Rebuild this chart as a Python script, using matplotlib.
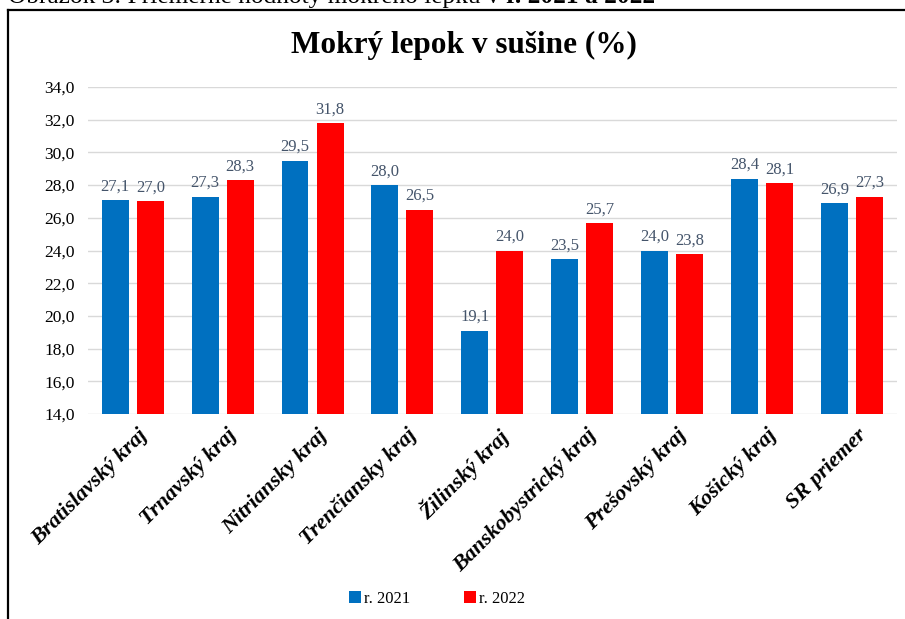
import matplotlib.pyplot as plt
import numpy as np
from matplotlib.lines import Line2D

# Wet gluten in dry matter by region
regions = ['Bratislavský kraj', 'Trnavský kraj', 'Nitriansky kraj', 'Trenčiansky kraj',
           'Žilinský kraj', 'Banskobystrický kraj', 'Prešovský kraj', 'Košický kraj', 'SR priemer']
values_2021 = [27.1, 27.3, 29.5, 28.0, 19.1, 23.5, 24.0, 28.4, 26.9]
values_2022 = [27.0, 28.3, 31.8, 26.5, 24.0, 25.7, 23.8, 28.1, 27.3]
y_ticks = [14, 16, 18, 20, 22, 24, 26, 28, 30, 32, 34]

plt.rcParams['font.family'] = ['Liberation Serif', 'DejaVu Serif']

fig = plt.figure(figsize=(9.05, 6.19), dpi=100)
ax = fig.add_axes([0.097, 0.331, 0.894, 0.5285])

x = np.arange(len(regions))
w = 0.30
off = 0.195
bars1 = ax.bar(x - off, values_2021, w, color='#0070C0', label='r. 2021', zorder=3)
bars2 = ax.bar(x + off, values_2022, w, color='#FF0000', label='r. 2022', zorder=3)

# value labels above bars
for bars, vals in [(bars1, values_2021), (bars2, values_2022)]:
    for b, v in zip(bars, vals):
        ax.annotate(f'{v:.1f}'.replace('.', ','), (b.get_x() + b.get_width() / 2, v),
                    xytext=(0, 4), textcoords='offset points', ha='center', va='bottom',
                    fontsize=12, color='#44546A')

ax.set_ylim(14, 34)
ax.set_xlim(-0.5, len(regions) - 0.5)
ax.set_yticks(y_ticks)
ax.set_yticklabels([f'{t:.1f}'.replace('.', ',') for t in y_ticks], fontsize=12.5)
ax.grid(axis='y', color='#D9D9D9', linewidth=1, zorder=0)
ax.tick_params(axis='both', length=0)
ax.tick_params(axis='y', pad=9.5)
for s in ax.spines.values():
    s.set_visible(False)

ax.set_xticks(x + 0.05)
ax.set_xticklabels(regions, rotation=45, ha='right', rotation_mode='anchor',
                   fontsize=16, fontweight='bold', fontstyle='italic')
ax.tick_params(axis='x', pad=8)

fig.text(0.513, 0.927, 'Mokrý lepok v sušine (%)', ha='center', va='center',
         fontsize=22.5, fontweight='bold')

fig.legend(handles=[bars1, bars2], loc='center', bbox_to_anchor=(0.483, 0.033), ncol=2,
           frameon=False, fontsize=12, handlelength=0.7, handleheight=0.7,
           handletextpad=0.2, columnspacing=3.2)

# frame around the chart
fig.add_artist(Line2D([8 / 905, 1], [1 - 10 / 619] * 2, transform=fig.transFigure,
                      color='black', linewidth=1.6))
fig.add_artist(Line2D([8 / 905] * 2, [0, 1 - 10 / 619], transform=fig.transFigure,
                      color='black', linewidth=1.6))

# caption above the frame (top part clipped)
renderer = fig.canvas.get_renderer()
cap = fig.text(8 / 905, 1 - 3 / 619, 'Obrázok 3: Priemerné hodnoty mokrého lepku v ',
               ha='left', va='baseline', fontsize=18.3)
ext = cap.get_window_extent(renderer)
fig.text(ext.x1 / fig.bbox.width, 1 - 3 / 619, 'r. 2021 a 2022',
         ha='left', va='baseline', fontsize=18.3, fontweight='bold')

fig.savefig('out.png', dpi=100)
